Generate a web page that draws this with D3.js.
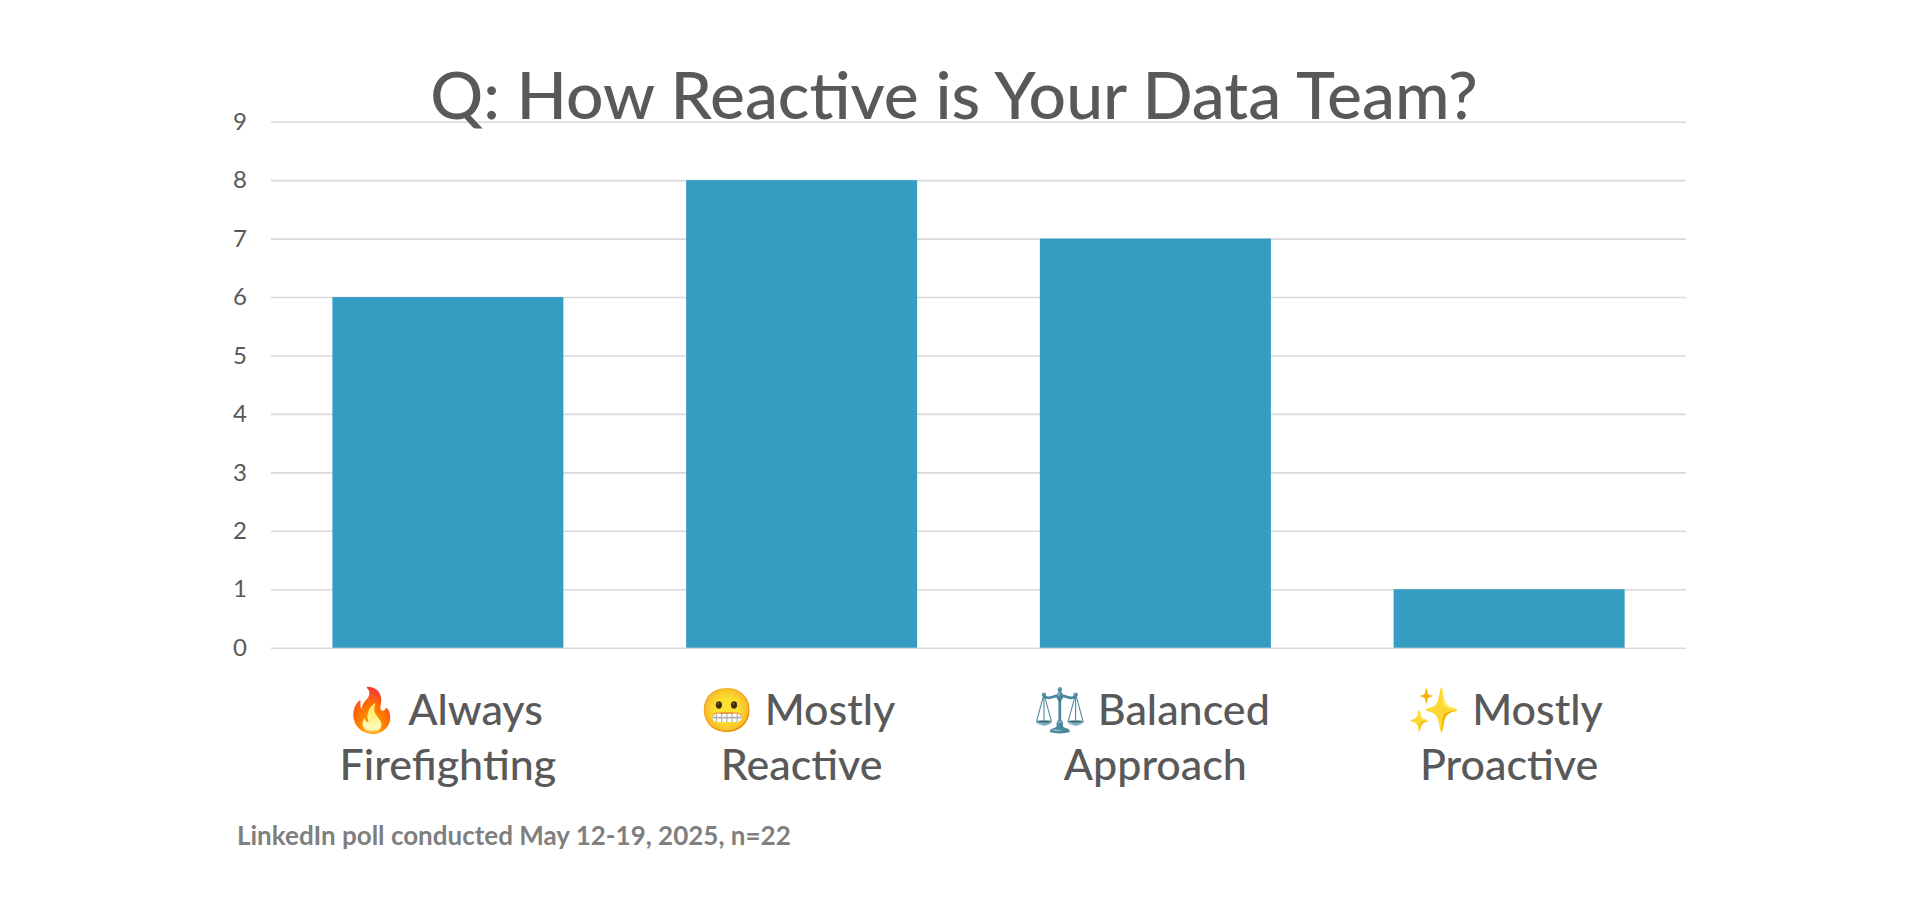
<!DOCTYPE html>
<html>
<head>
<meta charset="utf-8">
<script src="https://cdn.jsdelivr.net/npm/d3@7"></script>
<style>
  body { margin: 0; background: #fff; }
  text { font-family: Lato, "Open Sans", sans-serif; }
</style>
</head>
<body>
<script>
const w = 1920;
const h = 900;

// poll answers, one bar each
const icons = ["🔥", "😬", "⚖️", "✨"];
const line1 = ["Always", "Mostly", "Balanced", "Mostly"];
const line2 = ["Firefighting", "Reactive", "Approach", "Proactive"];
const votes = [6, 8, 7, 1];
const y_ticks = [0, 1, 2, 3, 4, 5, 6, 7, 8, 9];

const title_text = "Q: How Reactive is Your Data Team?";
const footnote = "LinkedIn poll conducted May 12-19, 2025, n=22";

const margin = {left: 271, right: 234, top: 121.7, bottom: 252.3};

////  Canvas  ////
const svg = d3.select("body").append("svg").attr("width", w).attr("height", h);
svg.append("rect").attr("width", w).attr("height", h).attr("fill", "#fff");

const x = d3.scaleBand()
    .domain(d3.range(votes.length))
    .range([margin.left, w - margin.right])
    .paddingInner(0.347)
    .paddingOuter(0.1735);

const y = d3.scaleLinear()
    .domain([0, 9])
    .range([h - margin.bottom, margin.top]);

////  Grid + y labels  ////
const yAxis = svg.append("g")
    .attr("transform", `translate(${margin.left},0)`)
    .call(d3.axisLeft(y).tickValues(y_ticks).tickSize(-(w - margin.left - margin.right)).tickPadding(24));
yAxis.select(".domain").remove();
yAxis.selectAll(".tick line")
    .attr("stroke", "#d9d9d9")
    .attr("stroke-width", 1.6);
yAxis.selectAll(".tick text")
    .attr("font-family", "Lato, sans-serif")
    .attr("font-size", "24px")
    .attr("fill", "#595959");

////  Bars  ////
svg.selectAll("rect.bar")
    .data(votes)
    .enter()
    .append("rect")
    .attr("class", "bar")
    .attr("x", (d, i) => x(i))
    .attr("y", d => y(d))
    .attr("width", x.bandwidth())
    .attr("height", d => y(0) - y(d))
    .attr("fill", "#359cc2");

////  Category labels  ////
const cat = svg.selectAll("g.cat")
    .data(votes)
    .enter()
    .append("g")
    .attr("class", "cat");
cat.append("text")
    .attr("x", (d, i) => x(i) + x.bandwidth() / 2 - 4)
    .attr("y", 725)
    .attr("text-anchor", "middle")
    .attr("font-size", "43px")
    .attr("font-weight", 500)
    .attr("fill", "#595959")
    .text((d, i) => icons[i] + " " + line1[i]);
cat.append("text")
    .attr("x", (d, i) => x(i) + x.bandwidth() / 2)
    .attr("y", 780)
    .attr("text-anchor", "middle")
    .attr("font-size", "43px")
    .attr("font-weight", 500)
    .attr("fill", "#595959")
    .text((d, i) => line2[i]);

////  Title + footnote  ////
svg.append("text")
    .attr("x", 954)
    .attr("y", 119)
    .attr("text-anchor", "middle")
    .attr("font-size", "66px")
    .attr("font-weight", 500)
    .attr("fill", "#595959")
    .text(title_text);

svg.append("text")
    .attr("x", 237)
    .attr("y", 845)
    .attr("font-size", "26px")
    .attr("font-weight", "bold")
    .attr("fill", "#7f7f7f")
    .text(footnote);
</script>
</body>
</html>
